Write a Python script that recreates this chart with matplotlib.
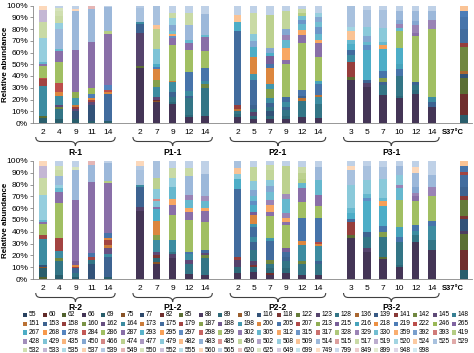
"""Relative abundance of OTUs per sampling day, two replicate series."""
import matplotlib.pyplot as plt
import matplotlib.colors as mcolors
import matplotlib.transforms as mtransforms
import numpy as np
from matplotlib.patches import PathPatch, Rectangle
from matplotlib.path import Path

plt.rcParams["font.family"] = ["Liberation Sans", "DejaVu Sans"]

otus = [
    55, 60, 62, 66, 69, 75, 77, 82, 85, 88, 89, 90, 116, 118, 122, 123, 128, 136, 139, 141, 142, 145, 148,
    151, 153, 158, 160, 162, 164, 173, 175, 179, 187, 188, 198, 200, 205, 207, 213, 215, 216, 218, 219, 222, 246, 265,
    267, 268, 278, 284, 286, 287, 293, 295, 297, 298, 299, 302, 305, 312, 315, 317, 328, 329, 330, 359, 392, 393, 419,
    428, 429, 435, 450, 466, 474, 477, 479, 482, 483, 485, 496, 502, 508, 509, 514, 515, 517, 519, 520, 524, 525, 529,
    532, 533, 535, 537, 539, 549, 550, 552, 555, 560, 565, 620, 625, 649, 699, 749, 799, 849, 899, 948, 998,
]

days_r = [2, 4, 9, 11, 14]
days_p1 = [2, 7, 9, 12, 14]
days_p2 = [2, 5, 7, 9, 12, 14]
days_p3 = [3, 5, 7, 10, 12, 14]

# each bar: (otu, share) from bottom to top
r1_bars = [
    [(69, 4), (85, 2), (164, 25), (179, 6), (222, 1), (286, 10), (287, 1.5), (305, 1.5), (508, 21), (517, 13), (533, 10), (560, 4)],
    [(69, 3), (128, 9), (142, 1.5), (145, 1.5), (164, 8), (200, 3), (222, 8), (286, 18), (287, 9), (305, 2), (514, 17), (508, 5), (517, 6), (532, 4), (550, 3), (565, 2)],
    [(69, 3), (116, 7), (145, 2), (158, 1.5), (173, 1.5), (198, 6), (213, 5), (287, 36), (514, 33), (560, 2), (565, 3)],
    [(69, 2), (116, 13), (145, 3), (179, 1.5), (200, 1.5), (219, 4), (246, 5), (287, 39), (514, 28), (549, 3)],
    [(69, 2), (175, 23), (200, 1.5), (222, 1.5), (278, 4), (287, 44), (419, 2), (514, 21), (565, 1)],
]
p11_bars = [
    [(66, 47), (85, 1.5), (123, 28.5), (153, 7), (164, 2), (525, 12), (539, 2)],
    [(66, 18), (75, 1), (82, 1), (145, 2), (164, 9), (187, 6), (200, 9), (219, 2), (267, 2), (429, 13), (474, 17), (509, 3), (525, 17)],
    [(66, 16), (89, 2), (128, 4), (153, 4), (164, 9), (173, 1), (286, 30), (287, 6), (297, 2), (312, 2), (330, 2), (450, 5), (508, 6), (517, 5), (565, 6)],
    [(66, 5), (89, 2), (128, 14), (153, 2), (164, 4), (205, 16), (286, 19), (287, 6), (305, 3), (514, 12), (517, 11), (565, 6)],
    [(66, 6), (128, 24), (142, 3), (164, 3), (205, 11), (286, 14), (287, 12), (305, 2), (514, 18), (565, 7)],
]
p21_bars = [
    [(66, 5), (89, 3), (128, 2), (151, 2), (158, 3), (175, 63), (267, 8), (509, 6), (565, 8)],
    [(66, 3), (89, 3), (123, 3), (128, 3), (153, 3), (175, 22), (198, 5), (200, 14), (267, 9), (450, 5), (479, 6), (517, 18), (565, 6)],
    [(66, 3), (89, 3), (116, 4), (128, 4), (153, 3), (164, 4), (187, 8), (198, 4), (200, 14), (205, 3), (215, 7), (267, 3), (450, 4), (474, 28), (565, 8)],
    [(66, 3), (89, 3), (128, 5), (153, 3), (164, 4), (175, 4), (286, 28), (287, 4), (312, 10), (305, 7), (329, 4), (450, 5), (496, 15), (565, 5)],
    [(66, 5), (128, 14), (151, 2), (153, 2), (205, 5), (286, 40), (287, 7), (312, 4), (305, 5), (315, 4), (330, 3), (419, 3), (517, 3), (565, 3)],
    [(66, 4), (128, 12), (164, 6), (151, 2), (205, 9), (216, 3), (286, 20), (287, 12), (312, 3), (305, 5), (315, 6), (330, 4), (450, 4), (508, 4), (565, 6)],
]
p31_bars = [
    [(66, 37), (85, 2), (158, 13), (164, 6), (175, 4), (267, 5), (305, 4), (509, 7), (520, 4), (525, 18)],
    [(66, 31), (123, 3), (153, 3), (267, 25), (297, 4), (305, 3), (450, 5), (479, 8), (525, 14), (565, 4)],
    [(66, 24), (128, 8), (153, 3), (187, 3), (205, 6), (267, 19), (295, 3), (305, 3), (479, 12), (525, 15), (565, 4)],
    [(66, 21), (89, 2), (128, 17), (205, 6), (216, 4), (267, 14), (286, 14), (305, 3), (329, 3), (450, 4), (514, 7), (565, 5)],
    [(66, 25), (89, 3), (128, 4), (153, 3), (286, 39), (287, 3), (329, 6), (450, 4), (514, 8), (565, 5)],
    [(66, 14), (153, 4), (164, 4), (286, 58), (329, 8), (514, 7), (565, 5)],
]
s37_1 = [(69, 7), (82, 18), (85, 13), (116, 4), (136, 2), (142, 21), (158, 3), (175, 12), (205, 10), (219, 5), (509, 5)]

r2_bars = [
    [(62, 2), (69, 7), (75, 1), (116, 2), (164, 22), (179, 3), (286, 10), (287, 1), (305, 2), (508, 21), (517, 15), (533, 10), (560, 4)],
    [(69, 3), (128, 12), (142, 3), (164, 6), (179, 11), (286, 29), (287, 10), (305, 3), (508, 3), (514, 7), (517, 5), (532, 4), (565, 4)],
    [(69, 2), (128, 3), (153, 4), (179, 1.5), (200, 1.5), (215, 3), (287, 52), (514, 25), (550, 3), (565, 5)],
    [(116, 13), (128, 3), (179, 3), (205, 3), (287, 60), (514, 15), (549, 3)],
    [(69, 2), (153, 17), (164, 2), (162, 5), (173, 3), (179, 4), (200, 2), (205, 4), (287, 42), (419, 2), (514, 15), (565, 2)],
]
p12_bars = [
    [(66, 58), (123, 3), (153, 17), (164, 2), (525, 12), (539, 4), (560, 4)],
    [(66, 13), (75, 1), (89, 4), (118, 2), (145, 3), (164, 10), (187, 4), (200, 12), (267, 10), (287, 2), (429, 5), (466, 2), (479, 8), (474, 10), (525, 14)],
    [(66, 18), (123, 3), (128, 2), (164, 10), (286, 21), (287, 9), (312, 5), (305, 10), (508, 8), (517, 8), (565, 6)],
    [(66, 4), (128, 9), (145, 3), (164, 5), (205, 2), (286, 27), (287, 7), (312, 3), (305, 7), (329, 4), (514, 16), (517, 7), (565, 6)],
    [(66, 3), (128, 15), (142, 2), (145, 2), (175, 3), (286, 23), (287, 10), (312, 2), (305, 6), (428, 4), (514, 19), (565, 11)],
]
p22_bars = [
    [(66, 5), (89, 5), (123, 6), (158, 3), (175, 57), (267, 9), (479, 4), (509, 5), (525, 6)],
    [(66, 6), (89, 4), (118, 2), (123, 3), (128, 10), (153, 6), (164, 5), (175, 8), (198, 3), (200, 7), (215, 3), (267, 6), (297, 3), (305, 4), (450, 5), (479, 8), (496, 12), (565, 5)],
    [(66, 3), (82, 2), (89, 4), (128, 4), (142, 3), (175, 16), (198, 3), (286, 18), (287, 4), (312, 6), (329, 4), (330, 7), (450, 5), (479, 5), (496, 8), (517, 5), (565, 3)],
    [(66, 5), (89, 4), (128, 6), (153, 4), (175, 4), (215, 3), (286, 20), (287, 2), (312, 4), (329, 4), (305, 12), (428, 4), (474, 24), (565, 4)],
    [(66, 3), (128, 10), (142, 2), (164, 14), (200, 3), (205, 20), (286, 13), (287, 12), (305, 4), (419, 4), (474, 5), (517, 5), (565, 5)],
    [(66, 3), (128, 10), (153, 2), (164, 13), (200, 2), (207, 1), (205, 21), (286, 10), (287, 9), (305, 13), (514, 11), (565, 5)],
]
p32_bars = [
    [(66, 35), (85, 2), (158, 11), (175, 3), (267, 5), (305, 4), (479, 20), (525, 12), (560, 4), (565, 4)],
    [(66, 23), (123, 3), (128, 10), (153, 4), (267, 26), (297, 3), (305, 3), (479, 12), (525, 12), (565, 4)],
    [(66, 17), (85, 2), (128, 17), (187, 4), (205, 5), (267, 17), (295, 4), (305, 3), (479, 16), (525, 10), (565, 5)],
    [(66, 10), (89, 2), (128, 19), (205, 5), (216, 8), (286, 23), (305, 10), (329, 3), (479, 8), (514, 8), (565, 4)],
    [(66, 31), (128, 6), (164, 4), (205, 5), (286, 20), (287, 4), (329, 3), (450, 5), (514, 12), (560, 5), (565, 5)],
    [(66, 25), (128, 8), (164, 12), (205, 4), (286, 21), (329, 8), (514, 10), (565, 12)],
]
s37_2 = [(69, 8), (82, 17), (85, 13), (88, 3), (116, 10), (118, 2), (122, 14), (141, 3), (153, 8), (175, 10), (179, 3), (205, 5), (509, 4)]

# Excel 2010 theme accents, shaded from dark (first OTUs) to pale (last OTUs)
accents = ["#4F81BD", "#C0504D", "#9BBB59", "#8064A2", "#4BACC6", "#F79646"]


def otu_color(i):
    base = np.array(mcolors.to_rgb(accents[i % 6]))
    t = -0.5 + 1.25 * i / (len(otus) - 1)
    if t < 0:
        return tuple(base * (1 + t))
    return tuple(base + (1 - base) * t)


colors = {otu: otu_color(i) for i, otu in enumerate(otus)}

W, H = 474, 353
fig = plt.figure(figsize=(W / 100, H / 100), dpi=100)

slot_r = [0, 1, 2, 3, 4]
slot_p1 = [6, 7, 8, 9, 10]
slot_p2 = [12, 13, 14, 15, 16, 17]
slot_p3 = [19, 20, 21, 22, 23, 24]
slot_s = 26


def fy(px):
    return 1 - px / H


def draw_brace(x0, x1, ytop, ybot):
    trans = mtransforms.blended_transform_factory(ax.transData, fig.transFigure)
    xc = (x0 + x1) / 2
    ym = (ytop + ybot) / 2
    d = 0.3
    verts = [
        (x0, ytop), (x0, ym), (x0 + d, ym),
        (xc - d, ym), (xc, ym), (xc, ybot),
        (xc, ym), (xc + d, ym),
        (x1 - d, ym), (x1, ym), (x1, ytop),
    ]
    codes = [
        Path.MOVETO, Path.CURVE3, Path.CURVE3,
        Path.LINETO, Path.CURVE3, Path.CURVE3,
        Path.CURVE3, Path.CURVE3,
        Path.LINETO, Path.CURVE3, Path.CURVE3,
    ]
    patch = PathPatch(Path(verts, codes), transform=trans, fill=False,
                      edgecolor="#404040", linewidth=0.8, clip_on=False)
    fig.add_artist(patch)


panels = [
    (5.5, 123, [r1_bars, p11_bars, p21_bars, p31_bars], s37_1, ["R-1", "P1-1", "P2-1", "P3-1"]),
    (161, 279, [r2_bars, p12_bars, p22_bars, p32_bars], s37_2, ["R-2", "P1-2", "P2-2", "P3-2"]),
]

for top_px, bot_px, groups, s37, names in panels:
    ax = fig.add_axes([33 / W, fy(bot_px), (472 - 33) / W, (bot_px - top_px) / H])
    all_slots = [slot_r, slot_p1, slot_p2, slot_p3]
    all_days = [days_r, days_p1, days_p2, days_p3]
    for slots, bars in zip(all_slots, groups):
        for x, segs in zip(slots, bars):
            total = sum(v for _, v in segs)
            bottom = 0
            for otu, v in segs:
                h = 100 * v / total
                ax.bar(x, h, bottom=bottom, width=0.47, color=colors[otu], linewidth=0)
                bottom += h
    total = sum(v for _, v in s37)
    bottom = 0
    for otu, v in s37:
        h = 100 * v / total
        ax.bar(slot_s, h, bottom=bottom, width=0.47, color=colors[otu], linewidth=0)
        bottom += h

    ax.set_xlim(-0.62, 26.48)
    ax.set_ylim(0, 100)
    ax.set_yticks(range(0, 101, 10))
    ax.set_yticklabels([f"{v}%" for v in range(0, 101, 10)], fontsize=6)
    ticks = [s for sl in all_slots for s in sl] + [slot_s]
    labels = [str(d) for dl in all_days for d in dl] + ["S37°C"]
    ax.set_xticks(ticks)
    ax.set_xticklabels(labels, fontsize=6)
    s_label = ax.get_xticklabels()[-1]
    s_label.set_fontweight("bold")
    s_label.set_fontsize(5.4)
    s_label.set_horizontalalignment("right")
    s_label.set_x(slot_s + 0.7)
    ax.tick_params(axis="x", length=0, pad=4)
    ax.tick_params(axis="y", length=2, width=0.6, color="#868686", pad=1.5)
    for side in ["top", "right"]:
        ax.spines[side].set_visible(False)
    for side in ["left", "bottom"]:
        ax.spines[side].set_color("#868686")
        ax.spines[side].set_linewidth(0.6)

    fig.text(6 / W, fy((top_px + bot_px) / 2), "Relative abundance", rotation=90,
             fontsize=5.8, fontweight="bold", ha="center", va="center")

    for slots, name in zip(all_slots, names):
        draw_brace(slots[0] - 0.45, slots[-1] + 0.45, fy(bot_px + 14), fy(bot_px + 23))
        x_fig = ax.transData.transform((np.mean(slots), 0))[0] / fig.dpi / fig.get_figwidth()
        fig.text(x_fig, fy(bot_px + 29), name, fontsize=6.2, fontweight="bold",
                 ha="center", va="center")

# legend laid out row by row like the original
n_cols = 23
for i, otu in enumerate(otus):
    row, col = divmod(i, n_cols)
    x = 23 + 19.5 * col
    y = 315 + 8.8 * row
    fig.add_artist(Rectangle((x / W, fy(y + 2.2)), 4.4 / W, 4.4 / H,
                             transform=fig.transFigure, color=colors[otu], linewidth=0))
    fig.text((x + 6) / W, fy(y), str(otu), fontsize=4.8, ha="left", va="center")

fig.savefig("out.png", dpi=100)
